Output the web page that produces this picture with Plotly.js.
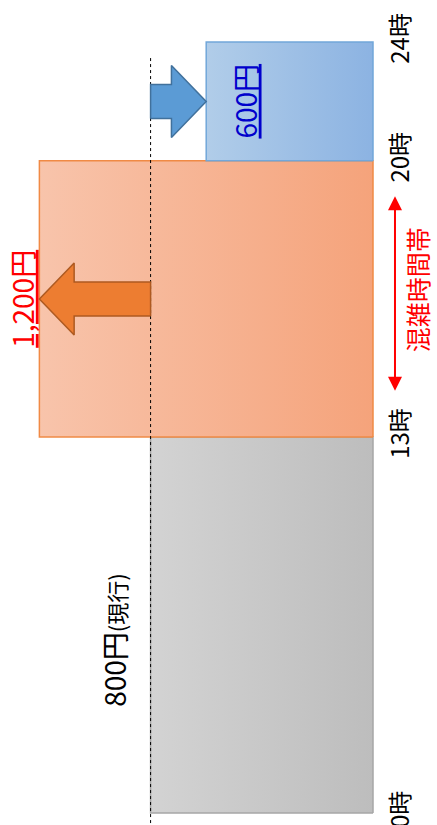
<!DOCTYPE html>
<html>
<head>
<meta charset="utf-8">
<script src="https://cdn.plot.ly/plotly-3.0.1.min.js"></script>
<style>html,body{margin:0;padding:0;background:#fff}</style>
</head>
<body>
<div id="plotArea" style="width:437px;height:825px"></div>
<script>
// Time axis runs bottom -> top. The drawing is schematic, so hours are not to scale:
// positions below are where each hour sits on the drawn axis
var hourLabels = ["0時", "13時", "20時", "24時"];
var hourPos = [0, 11.7, 20.3, 24];

// one price per band: 0-13時, 13-20時, 20-24時
var bandPrices = [800, 1200, 600];
var priceText = ["800円", "1,200円", "600円"];
var currentPrice = 800;

var font = "'Noto Sans CJK JP', 'Noto Sans', sans-serif";
var fills = [
  ["#d3d3d3", "#bdbdbd"],
  ["#f8c4ab", "#f5a37b"],
  ["#b1cde9", "#8cb3e2"]
];
var borders = ["#a6a6a6", "#f08a45", "#72a7d9"];

var traces = [];

// band boxes
bandPrices.forEach(function (p, i) {
  var y0 = hourPos[i], y1 = hourPos[i + 1];
  traces.push({
    type: "scatter",
    mode: "lines",
    x: [0, p, p, 0, 0],
    y: [y0, y0, y1, y1, y0],
    fill: "toself",
    fillgradient: {
      type: "horizontal",
      colorscale: [[0, fills[i][0]], [1, fills[i][1]]]
    },
    line: { color: borders[i], width: 1.5 },
    hoverinfo: "skip"
  });
});

// current price reference line
traces.push({
  type: "scatter",
  mode: "lines",
  x: [currentPrice, currentPrice],
  y: [23.5, -0.5],
  line: { color: "#000", width: 1, dash: "dot" },
  hoverinfo: "skip"
});

// block arrows from current price to new price, centred in the band
function blockArrow(from, to, yc, fill, edge) {
  var dir = to > from ? 1 : -1;
  var head = 125, shaft = 0.53, wing = 1.12;
  var xb = to - dir * head;
  return {
    type: "scatter",
    mode: "lines",
    x: [from, xb, xb, to, xb, xb, from, from],
    y: [yc - shaft, yc - shaft, yc - wing, yc, yc + wing, yc + shaft, yc + shaft, yc - shaft],
    fill: "toself",
    fillcolor: fill,
    line: { color: edge, width: 1.5 },
    hoverinfo: "skip"
  };
}
var midBusy = (hourPos[1] + hourPos[2]) / 2;
var midNight = (hourPos[2] + hourPos[3]) / 2;
traces.push(blockArrow(currentPrice, bandPrices[2], midNight, "#5b9bd5", "#41719c"));
traces.push(blockArrow(currentPrice, bandPrices[1], midBusy, "#ed7d31", "#ae5a21"));

var layout = {
  width: 437,
  height: 825,
  margin: { l: 0, r: 61, t: 0, b: 0 },
  paper_bgcolor: "#fff",
  plot_bgcolor: "#fff",
  showlegend: false,
  xaxis: {
    range: [1341.7, -10.8],
    visible: false,
    fixedrange: true
  },
  yaxis: {
    range: [-0.374, 25.307],
    side: "right",
    tickvals: hourPos,
    ticktext: hourLabels,
    tickangle: -90,
    tickfont: { family: font, size: 24, color: "#000" },
    ticks: "",
    ticklabelstandoff: 8,
    ticklabeloverflow: "allow",
    showgrid: false,
    zeroline: false,
    showline: false,
    fixedrange: true
  },
  annotations: [
    {
      text: "<u>" + priceText[2] + "</u>",
      xref: "paper", yref: "y", x: 0.652, y: midNight,
      xanchor: "center", yanchor: "middle",
      showarrow: false, textangle: -90,
      font: { family: font, size: 28, color: "#0000cc" }
    },
    {
      text: "<u>" + priceText[1] + "</u>",
      xref: "paper", yref: "y", x: 0.058, y: midBusy,
      xanchor: "center", yanchor: "middle",
      showarrow: false, textangle: -90,
      font: { family: font, size: 28, color: "#ff0000" }
    },
    {
      text: priceText[0] + "<span style='font-size:22px'>(現行)</span>",
      xref: "paper", yref: "y", x: 0.303, y: 5.39,
      xanchor: "center", yanchor: "middle",
      showarrow: false, textangle: -90,
      font: { family: font, size: 28, color: "#000" }
    },
    {
      text: "混雑時間帯",
      xref: "paper", yref: "y", x: 1.11, y: 16.28,
      xanchor: "center", yanchor: "middle",
      showarrow: false, textangle: -90,
      font: { family: font, size: 25, color: "#ff0000" }
    },
    {
      text: "",
      xref: "paper", yref: "y", x: 1.0505, y: 19.2,
      axref: "pixel", ayref: "y", ax: 0, ay: 13.1,
      showarrow: true, arrowside: "end+start",
      arrowhead: 2, arrowsize: 1.4, arrowwidth: 2,
      arrowcolor: "#ff0000", standoff: 0, startstandoff: 0
    }
  ]
};

Plotly.newPlot("plotArea", traces, layout, { displayModeBar: false, staticPlot: true });
</script>
</body>
</html>
